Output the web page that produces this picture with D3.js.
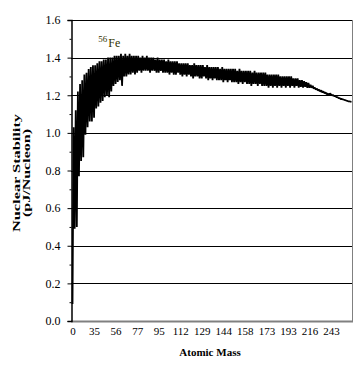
<!DOCTYPE html>
<html><head><meta charset="utf-8">
<script src="https://cdn.jsdelivr.net/npm/d3@7"></script>
<style>body{margin:0;background:#fff}</style>
</head><body><svg id="c" width="360" height="381"></svg>
<script>
// Binding energy per nucleon (pJ/nucleon), isotopes in order of atomic mass
const stability = [
0.09, 1.03, 0.49, 1.12, 0.50, 1.22, 0.77, 1.26, 0.85, 1.28,
0.87, 1.31, 0.99, 1.32, 1.03, 1.34, 1.06, 1.35, 1.06, 1.36,
1.08, 1.36, 1.13, 1.37, 1.14, 1.38, 1.16, 1.38, 1.17, 1.39,
1.19, 1.39, 1.20, 1.40, 1.19, 1.40, 1.22, 1.40, 1.25, 1.41,
1.26, 1.41, 1.27, 1.41, 1.28, 1.42, 1.25, 1.41, 1.30, 1.42,
1.30, 1.41, 1.31, 1.42, 1.31, 1.41, 1.32, 1.41, 1.31, 1.41,
1.32, 1.41, 1.33, 1.40, 1.32, 1.41, 1.33, 1.40, 1.33, 1.41,
1.33, 1.40, 1.32, 1.40, 1.33, 1.40, 1.33, 1.39, 1.32, 1.40,
1.32, 1.39, 1.33, 1.39, 1.32, 1.39, 1.32, 1.38, 1.32, 1.39,
1.31, 1.38, 1.32, 1.38, 1.31, 1.38, 1.31, 1.38, 1.32, 1.37,
1.31, 1.37, 1.30, 1.37, 1.31, 1.37, 1.30, 1.37, 1.31, 1.36,
1.30, 1.36, 1.29, 1.37, 1.30, 1.36, 1.30, 1.36, 1.29, 1.36,
1.29, 1.36, 1.30, 1.35, 1.29, 1.36, 1.28, 1.35, 1.29, 1.35,
1.28, 1.35, 1.29, 1.35, 1.28, 1.35, 1.28, 1.34, 1.28, 1.35,
1.27, 1.34, 1.28, 1.34, 1.27, 1.34, 1.28, 1.34, 1.27, 1.34,
1.27, 1.34, 1.27, 1.33, 1.26, 1.34, 1.27, 1.33, 1.26, 1.33,
1.27, 1.33, 1.26, 1.33, 1.26, 1.33, 1.25, 1.32, 1.26, 1.33,
1.26, 1.32, 1.25, 1.32, 1.26, 1.32, 1.25, 1.32, 1.25, 1.32,
1.25, 1.31, 1.24, 1.31, 1.25, 1.31, 1.24, 1.31, 1.25, 1.31,
1.24, 1.31, 1.25, 1.30, 1.24, 1.30, 1.25, 1.30, 1.24, 1.30,
1.25, 1.30, 1.24, 1.30, 1.25, 1.29, 1.24, 1.29, 1.25, 1.29,
1.24, 1.28, 1.245, 1.28, 1.24, 1.275, 1.245, 1.27, 1.24, 1.265,
1.24, 1.255, 1.24, 1.25, 1.235, 1.24, 1.23, 1.235, 1.225, 1.23,
1.22, 1.225, 1.215, 1.22, 1.21, 1.215, 1.205, 1.21, 1.20, 1.21,
1.205, 1.20, 1.20, 1.195, 1.195, 1.19, 1.19, 1.185, 1.185, 1.18,
1.18, 1.178, 1.176, 1.174, 1.172, 1.17, 1.168, 1.167, 1.166, 1.165
];
const tickIndex = [0, 20, 40, 60, 80, 100, 120, 140, 160, 180, 200, 220, 240];
const tickLabels = ["0","35","56","77","95","112","129","144","158","173","193","216","243"];
const yTicks = [0, 0.2, 0.4, 0.6, 0.8, 1.0, 1.2, 1.4, 1.6];
const yMinor = [0.1, 0.3, 0.5, 0.7, 0.9, 1.1, 1.3, 1.5];
const annotation = {sup: "56", text: "Fe", index: 24, value: 1.457};

const svg = d3.select("#c");
const L = 71, R = 352, T = 20, B = 321;
const x = d3.scaleLinear().domain([0, stability.length - 1]).range([L + 1.5, R - 0.5]);
const y = d3.scaleLinear().domain([0, 1.6]).range([B, T]);
const serif = "'Liberation Serif','Times New Roman',serif";

// gridlines
svg.append("g").selectAll("line").data(yTicks.filter(d => d > 0)).join("line")
  .attr("x1", L).attr("x2", R)
  .attr("y1", d => Math.round(y(d)) + 0.5).attr("y2", d => Math.round(y(d)) + 0.5)
  .attr("stroke", "#000").attr("stroke-width", 1);

// plot border (right, bottom)
svg.append("line").attr("x1", R + 0.5).attr("x2", R + 0.5).attr("y1", T).attr("y2", B + 1)
  .attr("stroke", "#808080");
svg.append("line").attr("x1", L).attr("x2", R + 1).attr("y1", B + 0.5).attr("y2", B + 0.5)
  .attr("stroke", "#808080").attr("stroke-width", 2);

// data line
svg.append("path").datum(stability)
  .attr("fill", "none").attr("stroke", "#000").attr("stroke-width", 1.8)
  .attr("stroke-linejoin", "bevel")
  .attr("d", d3.line().x((d, i) => x(i)).y(d => y(d)));

// y axis
const ya = svg.append("g").attr("transform", `translate(${L + 0.5},0)`)
  .call(d3.axisLeft(y).tickValues(yTicks).tickFormat(d3.format(".1f")).tickSize(4).tickPadding(7));
ya.select(".domain").attr("stroke", "#000").attr("stroke-width", 1.5);
ya.selectAll("text").attr("font-family", serif).attr("font-size", 12).attr("fill", "#000");
svg.append("g").attr("transform", `translate(${L + 0.5},0)`)
  .call(d3.axisLeft(y).tickValues(yMinor).tickFormat("").tickSize(2))
  .select(".domain").remove();

// x axis labels
const xa = svg.append("g").attr("transform", `translate(0,${B})`)
  .call(d3.axisBottom(x).tickValues(tickIndex).tickFormat((d, i) => tickLabels[i]).tickSize(0).tickPadding(6));
xa.select(".domain").remove();
xa.selectAll("text").attr("font-family", serif).attr("font-size", 11).attr("fill", "#000");

// axis titles
svg.append("text").attr("x", 210).attr("y", 356).attr("text-anchor", "middle")
  .attr("font-family", serif).attr("font-size", 11).attr("font-weight", "bold").text("Atomic Mass");
const yt = svg.append("g").attr("transform", "translate(20,173) rotate(-90)")
  .attr("font-family", serif).attr("font-size", 11).attr("font-weight", "bold");
yt.append("text").attr("x", 0).attr("y", 0).attr("text-anchor", "middle")
  .attr("textLength", 118).attr("lengthAdjust", "spacingAndGlyphs").text("Nuclear Stability");
yt.append("text").attr("x", 0).attr("y", 10).attr("text-anchor", "middle")
  .attr("textLength", 88).attr("lengthAdjust", "spacingAndGlyphs").text("(pJ/Nucleon)");

// 56Fe annotation
const an = svg.append("text").attr("x", x(annotation.index)).attr("y", y(annotation.value))
  .attr("font-family", serif).attr("font-size", 12).attr("fill", "#333300");
an.append("tspan").attr("font-size", 9).attr("dy", -5).text(annotation.sup);
an.append("tspan").attr("dy", 5).attr("dx", 1).text(annotation.text);
</script></body></html>
